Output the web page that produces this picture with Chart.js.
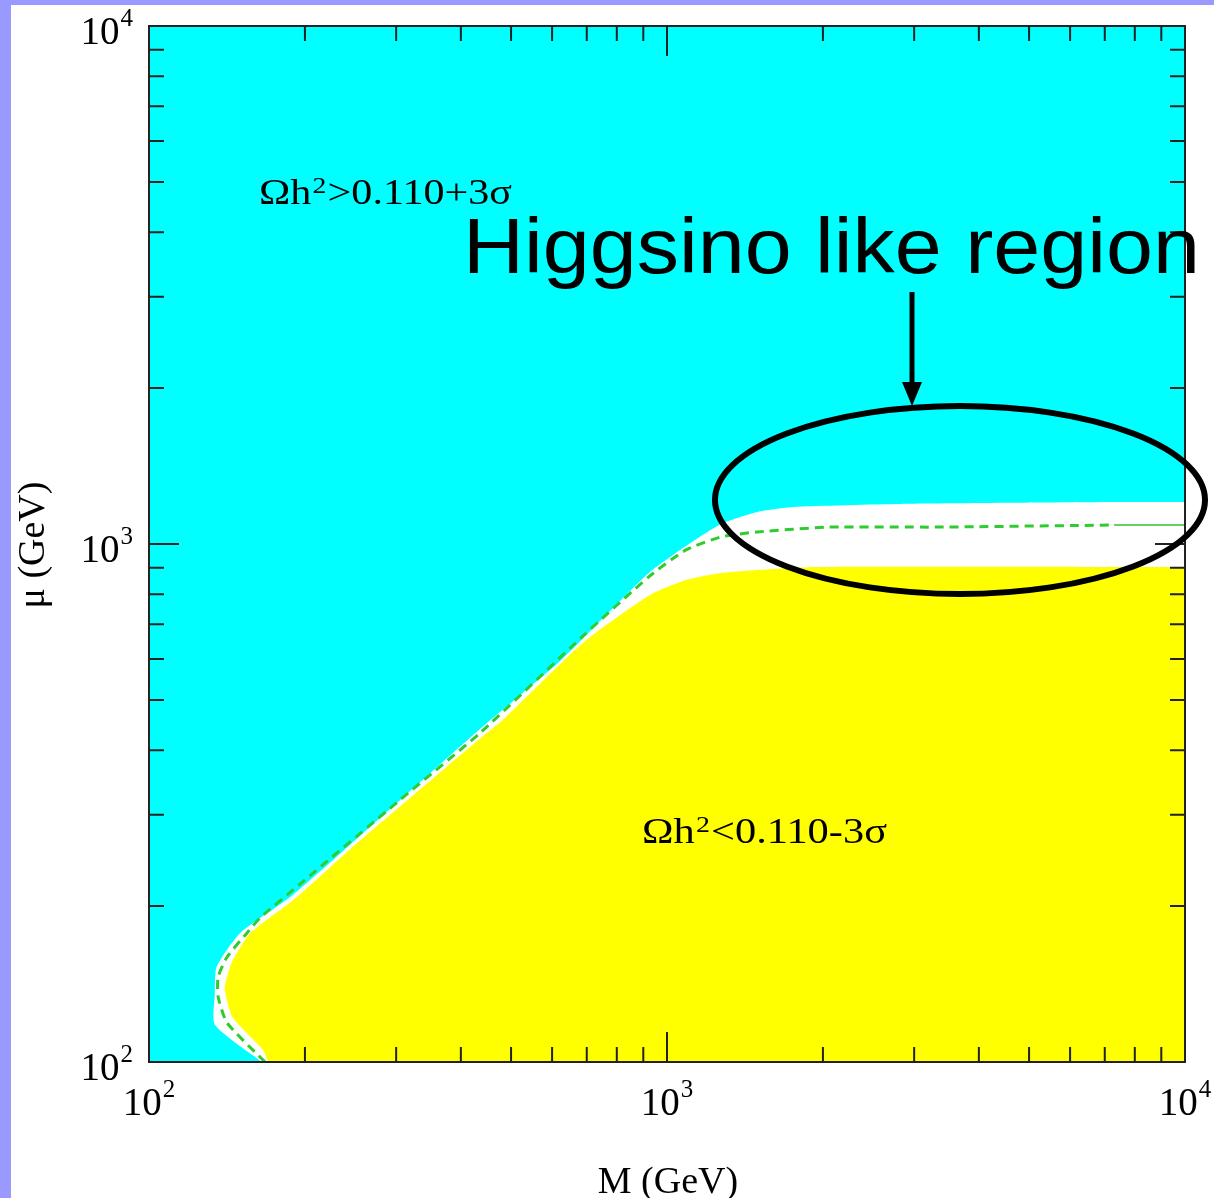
<!DOCTYPE html>
<html>
<head>
<meta charset="utf-8">
<script src="https://cdn.jsdelivr.net/npm/chart.js@4.4.1/dist/chart.umd.min.js"></script>
<style>
  html, body { margin: 0; padding: 0; background: #fff; }
  canvas { display: block; }
</style>
</head>
<body>
<canvas id="chart" width="1214" height="1198"></canvas>
<script>
// axis decades and minor ticks (GeV), same on both axes
const decades = [100, 1000, 10000]
const decadeExponents = ['2', '3', '4']
const minorTicks = [200, 300, 400, 500, 600, 700, 800, 900,
                    2000, 3000, 4000, 5000, 6000, 7000, 8000, 9000]

// upper edge of the allowed (white) band, Omega h^2 = 0.110 + 3 sigma
const upperM  = [165, 134, 134, 135, 150, 187, 237, 435, 621, 801, 927, 1088, 1272, 1492, 1751, 2818, 7293, 10000]
const upperMu = [100, 118, 135, 152.5, 177.5, 208, 255.5, 439, 594, 766, 883, 991, 1093, 1153, 1179, 1195, 1205, 1205]

// lower edge of the band, Omega h^2 = 0.110 - 3 sigma
const lowerM  = [170, 166, 145, 140, 141.5, 145, 157, 190, 244, 439, 482, 688, 927, 1088, 1272, 1492, 1956, 10000]
const lowerMu = [100, 105.5, 122, 138, 146, 157, 177.5, 205.5, 257, 424, 457.5, 644, 797, 852, 879, 891, 903, 903]

// central value Omega h^2 = 0.110 (dashed), solid at the far right
const centralM  = [167.5, 141.5, 136, 136, 141.5, 154.6, 163.8, 195.7, 305, 435.5, 688, 927, 1088, 1272, 1492, 2054, 3306, 7293]
const centralMu = [100, 119, 133.5, 146, 159.5, 177.5, 189.7, 220.6, 320.5, 431.7, 664, 868, 974, 1032, 1055, 1078, 1078, 1088]
const tailM  = [7293, 10000]
const tailMu = [1088, 1088]

const toPoints = (xs, ys) => xs.map((x, i) => ({ x, y: ys[i] }))

const SERIF = '"Liberation Serif", "Times New Roman", serif'
const SANS  = '"Liberation Sans", Arial, sans-serif'

function drawPower(ctx, exp, px, py, mode) {
  ctx.font = `39px ${SERIF}`
  const wBase = ctx.measureText('10').width
  ctx.font = `25px ${SERIF}`
  const wExp = ctx.measureText(exp).width
  const w = wBase + 1 + wExp
  let left, baseY, expY
  if (mode === 'x') {
    left = px - w / 2
    baseY = py + 53
    expY = py + 35
  } else {
    left = px - 16 - w
    baseY = py + 18
    expY = py
  }
  ctx.font = `39px ${SERIF}`
  ctx.fillText('10', left, baseY)
  ctx.font = `25px ${SERIF}`
  ctx.fillText(exp, left + wBase + 1, expY)
}

function drawOmega(ctx, rest, left, baseline, width) {
  ctx.save()
  ctx.font = `35px ${SERIF}`
  const w1 = ctx.measureText('Ωh').width
  const w3 = ctx.measureText(rest).width
  ctx.font = `23px ${SERIF}`
  const w2 = ctx.measureText('2').width
  const total = w1 + w2 + 2 + w3
  ctx.translate(left, baseline)
  ctx.scale(width / total, 1)
  ctx.font = `35px ${SERIF}`
  ctx.fillText('Ωh', 0, 0)
  ctx.fillText(rest, w1 + w2 + 2, 0)
  ctx.font = `23px ${SERIF}`
  ctx.fillText('2', w1 + 1, -11)
  ctx.restore()
}

// fills the area below a dataset's line down to the x axis, using the
// line element Chart.js built from the scales (works for curves that turn back in x)
const regionFill = {
  id: 'regionFill',
  beforeDatasetsDraw(chart) {
    const { ctx, chartArea: a } = chart
    for (let i = chart.data.datasets.length - 1; i >= 0; i--) {
      const ds = chart.data.datasets[i]
      if (!ds.regionColor) continue
      const line = chart.getDatasetMeta(i).dataset
      const pts = line.points
      ctx.save()
      ctx.beginPath()
      ctx.rect(a.left, a.top, a.right - a.left, a.bottom - a.top)
      ctx.clip()
      ctx.beginPath()
      line.path(ctx)
      ctx.lineTo(pts[pts.length - 1].x, a.bottom + 2)
      ctx.lineTo(pts[0].x, a.bottom + 2)
      ctx.closePath()
      ctx.fillStyle = ds.regionColor
      ctx.fill()
      ctx.restore()
    }
  }
}

const frame = {
  id: 'frame',
  beforeDraw(chart) {
    const { ctx, chartArea: a } = chart
    ctx.save()
    ctx.fillStyle = '#ffffff'
    ctx.fillRect(0, 0, chart.width, chart.height)
    ctx.fillStyle = '#9999ff'
    ctx.fillRect(0, 0, chart.width, 5)
    ctx.fillRect(0, 0, 11, chart.height)
    ctx.fillStyle = '#00ffff'
    ctx.fillRect(a.left, a.top, a.right - a.left, a.bottom - a.top)
    ctx.restore()
  },
  afterDatasetsDraw(chart) {
    const { ctx, chartArea: a, scales: { x, y } } = chart
    ctx.save()

    // inward ticks on all four sides
    ctx.strokeStyle = '#222'
    ctx.lineWidth = 2
    ctx.beginPath()
    const tick = (v, len) => {
      const px = x.getPixelForValue(v), py = y.getPixelForValue(v)
      ctx.moveTo(px, a.bottom); ctx.lineTo(px, a.bottom - len)
      ctx.moveTo(px, a.top);    ctx.lineTo(px, a.top + len)
      ctx.moveTo(a.left, py);   ctx.lineTo(a.left + len, py)
      ctx.moveTo(a.right, py);  ctx.lineTo(a.right - len, py)
    }
    minorTicks.forEach(v => tick(v, 15))
    decades.forEach(v => tick(v, 30))
    ctx.stroke()
    ctx.strokeRect(a.left, a.top, a.right - a.left, a.bottom - a.top)

    // tick labels 10^n
    ctx.fillStyle = '#000'
    ctx.textAlign = 'left'
    ctx.textBaseline = 'alphabetic'
    decades.forEach((v, i) => {
      drawPower(ctx, decadeExponents[i], x.getPixelForValue(v), a.bottom, 'x')
      drawPower(ctx, decadeExponents[i], a.left, y.getPixelForValue(v), 'y')
    })

    // axis titles
    ctx.font = `38px ${SERIF}`
    ctx.textAlign = 'center'
    ctx.fillText('M (GeV)', (a.left + a.right) / 2 + 1, 1193)
    ctx.save()
    ctx.translate(44, (a.top + a.bottom) / 2 + 1)
    ctx.rotate(-Math.PI / 2)
    ctx.fillText('μ (GeV)', 0, 0)
    ctx.restore()

    // region labels
    ctx.textAlign = 'left'
    drawOmega(ctx, '>0.110+3σ', 259, 204, 253)
    drawOmega(ctx, '<0.110-3σ', 642, 843, 245)
    ctx.restore()
  },
  afterDraw(chart) {
    const { ctx } = chart
    ctx.save()
    ctx.fillStyle = '#000'
    ctx.strokeStyle = '#000'

    // "Higgsino like region" callout
    ctx.font = `77px ${SANS}`
    const label = 'Higgsino like region'
    const w = ctx.measureText(label).width
    ctx.save()
    ctx.translate(463, 273)
    ctx.scale(737 / w, 1)
    ctx.fillText(label, 0, 0)
    ctx.restore()

    ctx.lineWidth = 5
    ctx.beginPath()
    ctx.moveTo(912, 292)
    ctx.lineTo(912, 388)
    ctx.stroke()
    ctx.beginPath()
    ctx.moveTo(912, 406)
    ctx.lineTo(902, 382)
    ctx.lineTo(922, 382)
    ctx.closePath()
    ctx.fill()

    ctx.lineWidth = 6
    ctx.beginPath()
    ctx.ellipse(960, 500, 245, 94, 0, 0, Math.PI * 2)
    ctx.stroke()
    ctx.restore()
  }
}

new Chart(document.getElementById('chart'), {
  type: 'scatter',
  data: {
    datasets: [
      {
        label: 'central',
        data: toPoints(centralM, centralMu),
        showLine: true,
        borderColor: '#2ecc2e',
        borderWidth: 3,
        borderDash: [9, 6],
        pointRadius: 0,
        tension: 0.2,
        fill: false,
      },
      {
        label: 'central tail',
        data: toPoints(tailM, tailMu),
        showLine: true,
        borderColor: '#66d066',
        borderWidth: 2,
        pointRadius: 0,
        fill: false,
      },
      {
        label: 'below',
        data: toPoints(lowerM, lowerMu),
        showLine: true,
        borderWidth: 0,
        borderColor: 'rgba(0,0,0,0)',
        regionColor: '#ffff00',
        pointRadius: 0,
        tension: 0.2,
        fill: false,
      },
      {
        label: 'band',
        data: toPoints(upperM, upperMu),
        showLine: true,
        borderWidth: 0,
        borderColor: 'rgba(0,0,0,0)',
        regionColor: '#ffffff',
        pointRadius: 0,
        tension: 0.2,
        fill: false,
      },
    ],
  },
  options: {
    responsive: false,
    animation: false,
    devicePixelRatio: 1,
    layout: { padding: { left: 149, top: 26, right: 29, bottom: 136 } },
    plugins: {
      legend: { display: false },
      tooltip: { enabled: false },
    },
    scales: {
      x: { type: 'logarithmic', min: 100, max: 10000, display: false },
      y: { type: 'logarithmic', min: 100, max: 10000, display: false },
    },
  },
  plugins: [regionFill, frame],
})
</script>
</body>
</html>
